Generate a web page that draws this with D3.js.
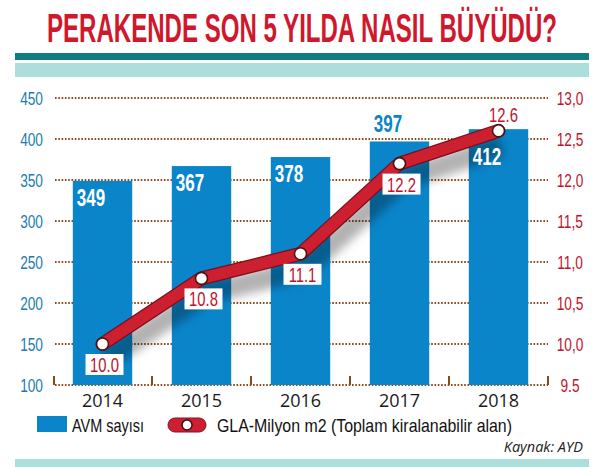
<!DOCTYPE html>
<html>
<head>
<meta charset="utf-8">
<script src="https://d3js.org/d3.v7.min.js"></script>
<style>
  body { margin: 0; background: #fff; }
  svg { display: block; }
  .cond { font-family: "Liberation Sans Narrow", "Liberation Sans", "Roboto", sans-serif; }
  .reg { font-family: "Open Sans", "Noto Sans", sans-serif; }
</style>
</head>
<body>
<svg id="chart"></svg>
<script>
// chart data
const years = ["2014", "2015", "2016", "2017", "2018"];
const avmCount = [349, 367, 378, 397, 412];
const glaArea = [10.0, 10.8, 11.1, 12.2, 12.6];
const leftTicks = [100, 150, 200, 250, 300, 350, 400, 450];
const rightTicks = [9.5, 10.0, 10.5, 11.0, 11.5, 12.0, 12.5, 13.0];
const rightTickLabels = ["9.5", "10,0", "10,5", "11,0", "11,5", "12,0", "12,5", "13,0"];

const W = 602, H = 467;
const svg = d3.select("#chart").attr("width", W).attr("height", H);

const blue = "#0a85ca";
const red = "#cc1f2f";
const grid = "#8a4a1c";

// squeeze text horizontally (no condensed face installed)
function condense(sel, f) {
    sel.each(function () {
        const len = this.getComputedTextLength();
        d3.select(this).attr("textLength", len * f).attr("lengthAdjust", "spacingAndGlyphs");
    });
}

// title + teal bands (stretched vertically to get the tall condensed look)
const titleSy = 1.72;
svg.append("text")
    .attr("class", "cond")
    .attr("x", 302).attr("y", 42 / titleSy)
    .attr("transform", `scale(1,${titleSy})`)
    .attr("text-anchor", "middle")
    .attr("font-size", 24).attr("font-weight", "bold")
    .attr("fill", "#d0182c")
    .attr("textLength", 510).attr("lengthAdjust", "spacingAndGlyphs")
    .text("PERAKENDE SON 5 YILDA NASIL BÜYÜDÜ?");

svg.append("rect").attr("x", 15).attr("y", 53).attr("width", 574).attr("height", 7).attr("fill", "#0e7c80");
svg.append("rect").attr("x", 15).attr("y", 63).attr("width", 574).attr("height", 14).attr("fill", "#acdfdb");
svg.append("rect").attr("x", 15).attr("y", 459).attr("width", 574).attr("height", 8).attr("fill", "#acdfdb");

// scales
const x = d3.scaleBand().domain(years).range([53, 548]).paddingInner(0.4).paddingOuter(0.2);
const yL = d3.scaleLinear().domain([100, 450]).range([385, 98]);
const yR = d3.scaleLinear().domain([9.5, 13.0]).range([385, 98]);

// gridlines (dotted)
svg.append("g").selectAll("line")
    .data(leftTicks)
    .join("line")
    .attr("x1", 55).attr("x2", 548)
    .attr("y1", d => yL(d)).attr("y2", d => yL(d))
    .attr("stroke", grid).attr("stroke-width", 1.8)
    .attr("stroke-dasharray", "1.6,1.7");

// small ticks on the baseline at band boundaries
const bounds = years.map(d => x(d) - x.step() * x.paddingInner() / 2)
    .concat([548]);
bounds[0] = 54;
svg.append("g").selectAll("line")
    .data(bounds)
    .join("line")
    .attr("x1", d => d).attr("x2", d => d)
    .attr("y1", 376).attr("y2", 385)
    .attr("stroke", grid).attr("stroke-width", 2);

// left axis labels
svg.append("g").selectAll("text")
    .data(leftTicks)
    .join("text")
    .attr("class", "cond axl")
    .attr("x", 43).attr("y", d => yL(d) + 6.5)
    .attr("text-anchor", "end")
    .attr("font-size", 18.5)
    .attr("fill", "#1b7cae")
    .text(d => d);

// right axis labels
svg.append("g").selectAll("text")
    .data(rightTicks)
    .join("text")
    .attr("class", "cond axl")
    .attr("x", 570).attr("y", d => yR(d) + 6.5)
    .attr("text-anchor", "middle")
    .attr("font-size", 18.5)
    .attr("fill", "#c0122c")
    .text((d, i) => rightTickLabels[i]);

condense(svg.selectAll(".axl"), 0.74);

// bars
svg.append("g").selectAll("rect")
    .data(avmCount)
    .join("rect")
    .attr("x", (d, i) => x(years[i]))
    .attr("y", d => yL(d))
    .attr("width", x.bandwidth())
    .attr("height", d => yL(100) - yL(d))
    .attr("fill", blue);

// year labels
svg.append("g").selectAll("text")
    .data(years)
    .join("text")
    .attr("class", "reg")
    .attr("x", d => x(d) + x.bandwidth() / 2)
    .attr("y", 407)
    .attr("text-anchor", "middle")
    .attr("font-size", 18)
    .attr("fill", "#1a1a1a")
    .text(d => d);

// line + shadow
const defs = svg.append("defs");
defs.append("filter").attr("id", "blur")
    .attr("x", "-20%").attr("y", "-50%").attr("width", "140%").attr("height", "200%")
    .append("feGaussianBlur").attr("stdDeviation", 5);

const pts = glaArea.map((v, i) => [x(years[i]) + x.bandwidth() / 2, yR(v)]);
const line = d3.line();

svg.append("path")
    .attr("d", line(pts))
    .attr("transform", "translate(3,15)")
    .attr("fill", "none")
    .attr("stroke", "#000").attr("stroke-opacity", 0.3)
    .attr("stroke-width", 22)
    .attr("filter", "url(#blur)");

svg.append("path")
    .attr("d", line(pts))
    .attr("fill", "none")
    .attr("stroke", "#7d0d18")
    .attr("stroke-width", 14)
    .attr("stroke-linejoin", "round")
    .attr("stroke-linecap", "round");
svg.append("path")
    .attr("d", line(pts))
    .attr("fill", "none")
    .attr("stroke", red)
    .attr("stroke-width", 11.5)
    .attr("stroke-linejoin", "round")
    .attr("stroke-linecap", "round");

svg.append("g").selectAll("circle")
    .data(pts)
    .join("circle")
    .attr("cx", d => d[0]).attr("cy", d => d[1])
    .attr("r", 6)
    .attr("fill", "#fff")
    .attr("stroke", "#4a1212").attr("stroke-width", 1.6);

// bar value labels
const barLabel = svg.append("g");
avmCount.forEach((v, i) => {
    const bx = x(years[i]);
    let ty = yL(v) + 25, col = "#fff";
    if (years[i] === "2017") { ty = yL(v) - 9; col = blue; }   // line runs over bar top
    if (years[i] === "2018") { ty = yL(v) + 36; }
    barLabel.append("text")
        .attr("class", "cond bl")
        .attr("x", bx + 4).attr("y", ty)
        .attr("font-size", 23).attr("font-weight", "bold")
        .attr("fill", col)
        .text(v);
});
condense(svg.selectAll(".bl"), 0.74);

// line value labels
const lineLabel = svg.append("g");
glaArea.forEach((v, i) => {
    const [px, py] = pts[i];
    if (i === glaArea.length - 1) {
        lineLabel.append("text")
            .attr("class", "cond ll")
            .attr("x", px + 5).attr("y", py - 9)
            .attr("text-anchor", "middle")
            .attr("font-size", 20)
            .attr("fill", "#c0122c")
            .text(v.toFixed(1));
        return;
    }
    lineLabel.append("rect")
        .attr("x", px - 17).attr("y", py + 10)
        .attr("width", 38).attr("height", 21)
        .attr("fill", "#fff");
    lineLabel.append("text")
        .attr("class", "cond ll")
        .attr("x", px + 2).attr("y", py + 28)
        .attr("text-anchor", "middle")
        .attr("font-size", 20)
        .attr("fill", "#c0122c")
        .text(v.toFixed(1));
});
condense(svg.selectAll(".ll"), 0.74);

// legend
const lg = svg.append("g");
lg.append("rect").attr("x", 37).attr("y", 416).attr("width", 30).attr("height", 16).attr("fill", blue);
lg.append("text")
    .attr("class", "cond")
    .attr("x", 72).attr("y", 432)
    .attr("font-size", 19)
    .attr("fill", "#111")
    .attr("textLength", 72).attr("lengthAdjust", "spacingAndGlyphs")
    .text("AVM sayısı");
lg.append("rect").attr("x", 168).attr("y", 418).attr("width", 38).attr("height", 14)
    .attr("rx", 7).attr("fill", red).attr("stroke", "#8a1020").attr("stroke-width", 1);
lg.append("circle").attr("cx", 187).attr("cy", 425).attr("r", 5)
    .attr("fill", "#fff").attr("stroke", "#3a1010").attr("stroke-width", 1.5);
lg.append("text")
    .attr("class", "cond")
    .attr("x", 217).attr("y", 432)
    .attr("font-size", 19)
    .attr("fill", "#111")
    .attr("textLength", 295).attr("lengthAdjust", "spacingAndGlyphs")
    .text("GLA-Milyon m2 (Toplam kiralanabilir alan)");

svg.append("text")
    .attr("class", "reg")
    .attr("x", 583).attr("y", 452)
    .attr("text-anchor", "end")
    .attr("font-size", 14.5).attr("font-style", "italic")
    .attr("fill", "#222")
    .text("Kaynak: AYD");
</script>
</body>
</html>
